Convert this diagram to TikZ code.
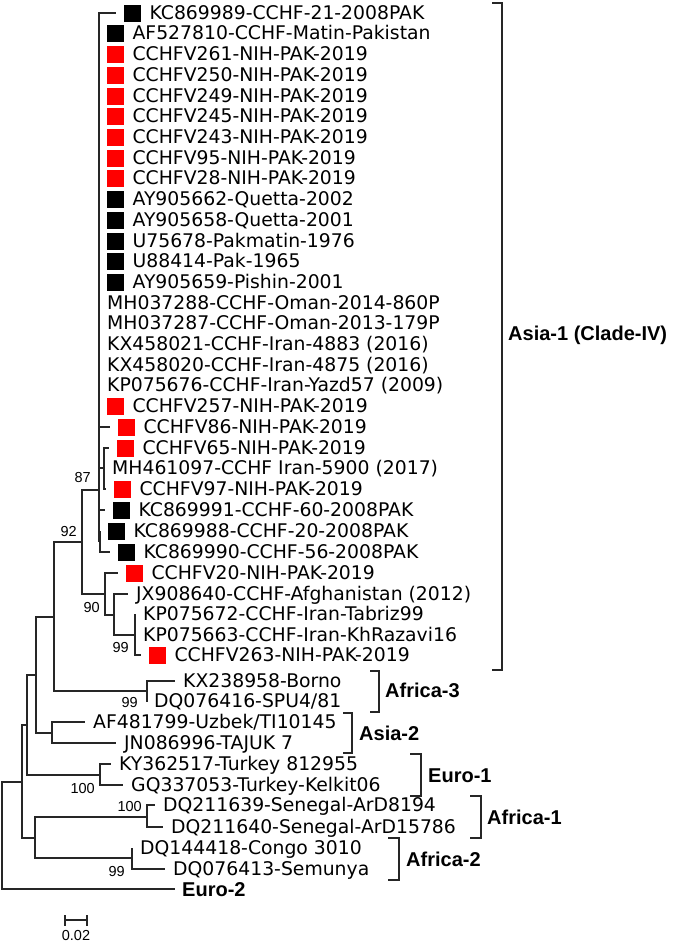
\documentclass[tikz,border=0pt]{standalone}
\usepackage{fontspec}
\usepackage{tikz}
\usetikzlibrary{positioning,calc}
\newfontfamily\leaffont{DejaVu Sans}
\newfontfamily\arialfont{Liberation Sans}

\tikzset{
  branch/.style={line width=1.1pt, draw=black!85},
  elbow/.style={to path={|- (\tikztotarget)}},
  leaf/.style={inner sep=0pt, text height=13.7pt, text depth=0pt,
    font=\leaffont\fontsize{18.8}{20}\selectfont},
  redbox/.style={fill=red, inner sep=0pt, minimum size=17pt},
  blackbox/.style={fill=black, inner sep=0pt, minimum size=17pt},
  boot/.style={inner sep=0pt, text height=10.3pt, text depth=0pt,
    font=\arialfont\fontsize{14.5}{16}\selectfont},
  clade/.style={inner sep=0pt, anchor=west, text height=14.3pt, text depth=0pt,
    font=\arialfont\bfseries\fontsize{20}{22}\selectfont},
}

\begin{document}
\begin{tikzpicture}[x=1pt,y=-1pt,node distance=8pt]
   \useasboundingbox (0,0) rectangle (674,946);
   % inner nodes of the tree
   \coordinate (root)  at (2,835);
   \coordinate (nA)    at (22,782);
   \coordinate (nD)    at (27,725);
   \coordinate (nE)    at (36,675);
   \coordinate (nF)    at (54,617);
   \coordinate (n92)   at (82,542);
   \coordinate (n87)   at (99,490);
   \coordinate (nS)    at (104,468);
   \coordinate (nK)    at (100,541);
   \coordinate (n90)   at (105,594);
   \coordinate (nJ)    at (114,615);
   \coordinate (n99)   at (135,635);
   \coordinate (nAf3)  at (147,691);
   \coordinate (nAs2)  at (52,733);
   \coordinate (nEu1)  at (100,775);
   \coordinate (nAf12) at (35,838);
   \coordinate (nAf1)  at (147,817);
   \coordinate (nAf2)  at (132,858);

   % leaves
   \coordinate (t1) at (116,13);
   \node[blackbox, right=of t1] (b1) {};
   \node[leaf, right=of b1] (l1) {KC869989-CCHF-21-2008PAK};
   \coordinate (t2) at (99,33);
   \node[blackbox, right=of t2] (b2) {};
   \node[leaf, right=of b2] (l2) {AF527810-CCHF-Matin-Pakistan};
   \coordinate (t3) at (99,54);
   \node[redbox, right=of t3] (b3) {};
   \node[leaf, right=of b3] (l3) {CCHFV261-NIH-PAK-2019};
   \coordinate (t4) at (99,75);
   \node[redbox, right=of t4] (b4) {};
   \node[leaf, right=of b4] (l4) {CCHFV250-NIH-PAK-2019};
   \coordinate (t5) at (99,96);
   \node[redbox, right=of t5] (b5) {};
   \node[leaf, right=of b5] (l5) {CCHFV249-NIH-PAK-2019};
   \coordinate (t6) at (99,116);
   \node[redbox, right=of t6] (b6) {};
   \node[leaf, right=of b6] (l6) {CCHFV245-NIH-PAK-2019};
   \coordinate (t7) at (99,137);
   \node[redbox, right=of t7] (b7) {};
   \node[leaf, right=of b7] (l7) {CCHFV243-NIH-PAK-2019};
   \coordinate (t8) at (99,158);
   \node[redbox, right=of t8] (b8) {};
   \node[leaf, right=of b8] (l8) {CCHFV95-NIH-PAK-2019};
   \coordinate (t9) at (99,178);
   \node[redbox, right=of t9] (b9) {};
   \node[leaf, right=of b9] (l9) {CCHFV28-NIH-PAK-2019};
   \coordinate (t10) at (99,199);
   \node[blackbox, right=of t10] (b10) {};
   \node[leaf, right=of b10] (l10) {AY905662-Quetta-2002};
   \coordinate (t11) at (99,220);
   \node[blackbox, right=of t11] (b11) {};
   \node[leaf, right=of b11] (l11) {AY905658-Quetta-2001};
   \coordinate (t12) at (99,241);
   \node[blackbox, right=of t12] (b12) {};
   \node[leaf, right=of b12] (l12) {U75678-Pakmatin-1976};
   \coordinate (t13) at (99,261);
   \node[blackbox, right=of t13] (b13) {};
   \node[leaf, right=of b13] (l13) {U88414-Pak-1965};
   \coordinate (t14) at (99,282);
   \node[blackbox, right=of t14] (b14) {};
   \node[leaf, right=of b14] (l14) {AY905659-Pishin-2001};
   \coordinate (t15) at (99,303);
   \node[leaf, right=of t15] (l15) {MH037288-CCHF-Oman-2014-860P};
   \coordinate (t16) at (99,323);
   \node[leaf, right=of t16] (l16) {MH037287-CCHF-Oman-2013-179P};
   \coordinate (t17) at (99,344);
   \node[leaf, right=of t17] (l17) {KX458021-CCHF-Iran-4883 (2016)};
   \coordinate (t18) at (99,365);
   \node[leaf, right=of t18] (l18) {KX458020-CCHF-Iran-4875 (2016)};
   \coordinate (t19) at (99,385);
   \node[leaf, right=of t19] (l19) {KP075676-CCHF-Iran-Yazd57 (2009)};
   \coordinate (t20) at (99,406);
   \node[redbox, right=of t20] (b20) {};
   \node[leaf, right=of b20] (l20) {CCHFV257-NIH-PAK-2019};
   \coordinate (t21) at (110,427);
   \node[redbox, right=of t21] (b21) {};
   \node[leaf, right=of b21] (l21) {CCHFV86-NIH-PAK-2019};
   \coordinate (t22) at (109,448);
   \node[redbox, right=of t22] (b22) {};
   \node[leaf, right=of b22] (l22) {CCHFV65-NIH-PAK-2019};
   \coordinate (t23) at (104,468);
   \node[leaf, right=of t23] (l23) {MH461097-CCHF Iran-5900 (2017)};
   \coordinate (t24) at (106,489);
   \node[redbox, right=of t24] (b24) {};
   \node[leaf, right=of b24] (l24) {CCHFV97-NIH-PAK-2019};
   \coordinate (t25) at (105,510);
   \node[blackbox, right=of t25] (b25) {};
   \node[leaf, right=of b25] (l25) {KC869991-CCHF-60-2008PAK};
   \coordinate (t26) at (100,531);
   \node[blackbox, right=of t26] (b26) {};
   \node[leaf, right=of b26] (l26) {KC869988-CCHF-20-2008PAK};
   \coordinate (t27) at (110,552);
   \node[blackbox, right=of t27] (b27) {};
   \node[leaf, right=of b27] (l27) {KC869990-CCHF-56-2008PAK};
   \coordinate (t28) at (118,573);
   \node[redbox, right=of t28] (b28) {};
   \node[leaf, right=of b28] (l28) {CCHFV20-NIH-PAK-2019};
   \coordinate (t29) at (128,594);
   \node[leaf, right=of t29] (l29) {JX908640-CCHF-Afghanistan (2012)};
   \coordinate (t30) at (135,614);
   \node[leaf, right=of t30] (l30) {KP075672-CCHF-Iran-Tabriz99};
   \coordinate (t31) at (135,635);
   \node[leaf, right=of t31] (l31) {KP075663-CCHF-Iran-KhRazavi16};
   \coordinate (t32) at (141,655);
   \node[redbox, right=of t32] (b32) {};
   \node[leaf, right=of b32] (l32) {CCHFV263-NIH-PAK-2019};
   \coordinate (t33) at (175,681);
   \node[leaf, right=of t33] (l33) {KX238958-Borno};
   \coordinate (t34) at (146,701);
   \node[leaf, right=of t34] (l34) {DQ076416-SPU4/81};
   \coordinate (t35) at (85,722);
   \node[leaf, right=of t35] (l35) {AF481799-Uzbek/TI10145};
   \coordinate (t36) at (116,743);
   \node[leaf, right=of t36] (l36) {JN086996-TAJUK 7};
   \coordinate (t37) at (111,764);
   \node[leaf, right=of t37] (l37) {KY362517-Turkey 812955};
   \coordinate (t38) at (123,785);
   \node[leaf, right=of t38] (l38) {GQ337053-Turkey-Kelkit06};
   \coordinate (t39) at (155,805);
   \node[leaf, right=of t39] (l39) {DQ211639-Senegal-ArD8194};
   \coordinate (t40) at (163,827);
   \node[leaf, right=of t40] (l40) {DQ211640-Senegal-ArD15786};
   \coordinate (t41) at (132,848);
   \node[leaf, right=of t41] (l41) {DQ144418-Congo 3010};
   \coordinate (t42) at (165,869);
   \node[leaf, right=of t42] (l42) {DQ076413-Semunya};
   \coordinate (t43) at (175,889);
   \node[clade, right=7pt of t43] (l43) {Euro-2};

   % branches
   \path[branch]
   (root) edge[elbow] (nA)
          edge[elbow] (t43)
   (nA)   edge[elbow] (nD)
          edge[elbow] (nAf12)
   (nD)   edge[elbow] (nE)
          edge[elbow] (nEu1)
   (nE)   edge[elbow] (nF)
          edge[elbow] (nAs2)
   (nF)   edge[elbow] (n92)
          edge[elbow] (nAf3)
   (n92)  edge[elbow] (n87)
          edge[elbow] (n90)
   (n87)  edge[elbow] (t1)  edge[elbow] (t2)  edge[elbow] (t3)  edge[elbow] (t4)
          edge[elbow] (t5)  edge[elbow] (t6)  edge[elbow] (t7)  edge[elbow] (t8)
          edge[elbow] (t9)  edge[elbow] (t10) edge[elbow] (t11) edge[elbow] (t12)
          edge[elbow] (t13) edge[elbow] (t14) edge[elbow] (t15) edge[elbow] (t16)
          edge[elbow] (t17) edge[elbow] (t18) edge[elbow] (t19) edge[elbow] (t20)
          edge[elbow] (t21) edge[elbow] (nS)  edge[elbow] (t25) edge[elbow] (nK)
   (nS)   edge[elbow] (t22) edge[elbow] (t23) edge[elbow] (t24)
   (nK)   edge[elbow] (t26) edge[elbow] (t27)
   (n90)  edge[elbow] (t28)
          edge[elbow] (nJ)
   (nJ)   edge[elbow] (t29)
          edge[elbow] (n99)
   (n99)  edge[elbow] (t30) edge[elbow] (t31) edge[elbow] (t32)
   (nAf3) edge[elbow] (t33)
          edge[elbow] (t34)
   (nAs2) edge[elbow] (t35)
          edge[elbow] (t36)
   (nEu1) edge[elbow] (t37)
          edge[elbow] (t38)
   (nAf12) edge[elbow] (nAf1)
           edge[elbow] (nAf2)
   (nAf1) edge[elbow] (t39)
          edge[elbow] (t40)
   (nAf2) edge[elbow] (t41)
          edge[elbow] (t42);

   % bootstrap values
   \node[boot, above left=7pt and 8pt of n87] (bs87) {87};
   \node[boot, above left=5pt and 5pt of n92] (bs92) {92};
   \node[boot, below left=8pt and 5pt of n90] (bs90) {90};
   \node[boot, below left=7pt and 6pt of n99] (bs99) {99};
   \node[boot, below left=6pt and 9pt of nAf3] (bsAf3) {99};
   \node[boot, below left=8pt and 5pt of nEu1] (bsEu1) {100};
   \node[boot, above left=5pt and 5pt of nAf1] (bsAf1) {100};
   \node[boot, below left=8pt and 7pt of nAf2] (bsAf2) {99};

   % clade brackets
   \draw[branch] (492,3) -- (502,3) |- (492,670);
   \draw[branch] (370,671) -- (379,671) |- (370,712);
   \draw[branch] (343,713) -- (352,713) |- (343,753);
   \draw[branch] (410,754) -- (421,754) |- (410,796);
   \draw[branch] (470,796) -- (481,796) |- (470,838);
   \draw[branch] (388,838) -- (399,838) |- (388,880);
   \node[clade] (asia1) at (508,333) {Asia-1 (Clade-IV)};
   \node[clade] (afr3)  at (385,690) {Africa-3};
   \node[clade] (asia2) at (359,733) {Asia-2};
   \node[clade] (euro1) at (428,775) {Euro-1};
   \node[clade] (afr1)  at (487,817) {Africa-1};
   \node[clade] (afr2)  at (406,859) {Africa-2};

   % scale bar
   \coordinate (sbl) at (65,920);
   \coordinate (sbr) at (87,920);
   \draw[branch] (sbl) -- (sbr)
     (65,915) -- (65,926) (87,915) -- (87,926);
   \node[boot, below=10pt of $(sbl)!0.5!(sbr)$] (sbtext) {0.02};
\end{tikzpicture}
\end{document}
